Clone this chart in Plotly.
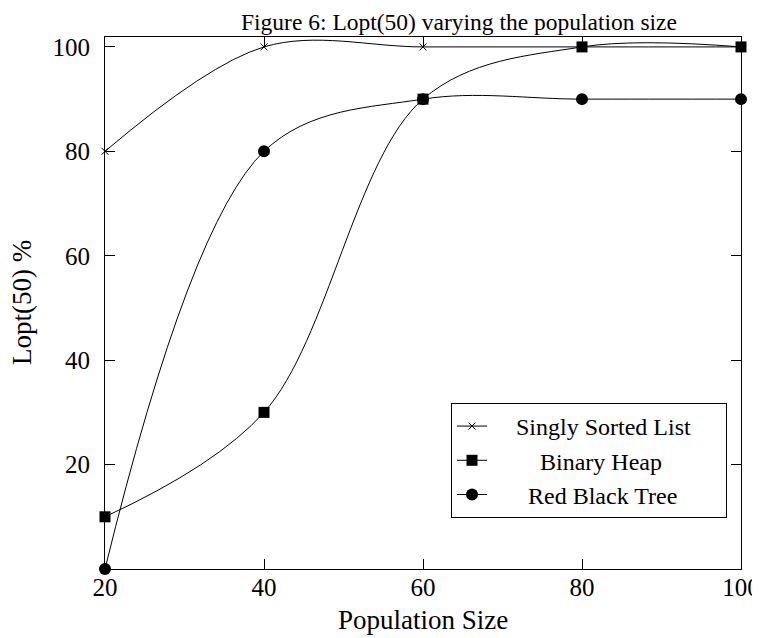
import plotly.graph_objects as go

population = [20, 40, 60, 80, 100]
singly_sorted_list = [80, 100, 100, 100, 100]
binary_heap = [10, 30, 90, 100, 100]
red_black_tree = [0, 80, 90, 90, 90]
x_ticks = [20, 40, 60, 80, 100]
y_ticks = [20, 40, 60, 80, 100]
NB = "\u00a0"
legend_names = [NB * 4 + "Singly Sorted List" + NB * 5,
                NB * 8 + "Binary Heap",
                NB * 6 + "Red Black Tree"]

FONT = "Liberation Serif"
BLACK = "black"

fig = go.Figure()
markers = [
    dict(symbol="x-thin", size=7, color=BLACK, line=dict(width=1, color=BLACK)),
    dict(symbol="square", size=11, color=BLACK),
    dict(symbol="circle", size=12, color=BLACK),
]
for name, ys, marker in zip(legend_names, [singly_sorted_list, binary_heap, red_black_tree], markers):
    fig.add_trace(go.Scatter(
        x=population, y=ys, name=name, mode="lines+markers",
        line=dict(color=BLACK, width=1, shape="spline", smoothing=1.0),
        marker=marker, cliponaxis=False,
    ))

axis_common = dict(
    showline=True, linecolor=BLACK, linewidth=1, mirror="allticks",
    ticks="inside", ticklen=10, tickcolor=BLACK, tickwidth=1,
    showgrid=False, zeroline=False, automargin=False,
    tickfont=dict(family=FONT, size=25, color=BLACK),
)
# page body has an 8px margin, so the figure is 752x630 and placed at (8, 8)
fig.update_layout(
    width=752, height=630,
    margin=dict(l=97, r=19, t=29, b=69),
    paper_bgcolor="white", plot_bgcolor="white",
    xaxis=dict(range=[20, 100], tickvals=x_ticks, ticklabelstandoff=-4, **axis_common),
    yaxis=dict(range=[0, 101.9], tickvals=y_ticks, ticklabelstandoff=9, **axis_common),
    legend=dict(x=0.978, y=0.0959, xanchor="right", yanchor="bottom",
                bordercolor=BLACK, borderwidth=1, bgcolor="white",
                font=dict(family=FONT, size=24, color=BLACK),
                tracegroupgap=0),
    showlegend=True,
    annotations=[
        dict(text="Figure 6: Lopt(50) varying the population size", xref="paper", yref="paper",
             x=0.5566, y=(569 - 8) / 532, xanchor="center", yanchor="top", showarrow=False,
             borderpad=0, font=dict(family=FONT, size=23.5, color=BLACK)),
        dict(text="Population Size", xref="paper", yref="paper",
             x=0.5, y=(569 - 620) / 532, xanchor="center", yanchor="middle", showarrow=False,
             font=dict(family=FONT, size=27, color=BLACK)),
        dict(text="Lopt(50) %", xref="paper", yref="paper",
             x=(22 - 105) / 636, y=0.5, xanchor="center", yanchor="middle", showarrow=False,
             textangle=-90, font=dict(family=FONT, size=27, color=BLACK)),
    ],
)
fig.write_html("out.html")
